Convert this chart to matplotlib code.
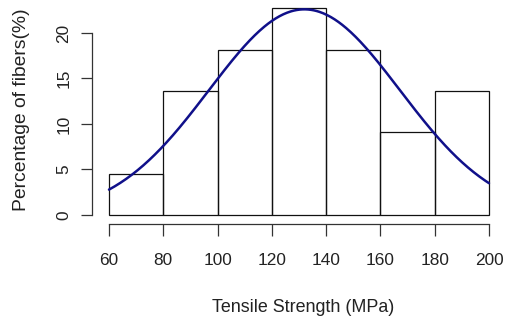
import numpy as np
import matplotlib
matplotlib.use("Agg")
import matplotlib.pyplot as plt

# Histogram of fibre tensile strength (22 fibres, 20 MPa bins)
bin_edges = [60, 80, 100, 120, 140, 160, 180, 200]
counts = [1, 3, 4, 5, 4, 2, 3]
n_fibers = 22
percent = [100.0 * c / n_fibers for c in counts]

# Fitted normal curve parameters (MPa) and its peak height (%)
fit_mean = 132.0
fit_sd = 35.2
fit_peak = 22.6

x_ticks = [60, 80, 100, 120, 140, 160, 180, 200]
y_ticks = [0, 5, 10, 15, 20]

plt.rcParams['font.family'] = ['Liberation Sans', 'DejaVu Sans']

W, H = 506, 324
fig = plt.figure(figsize=(W / 100, H / 100), dpi=100)

# axes placed in pixel coordinates
left_px, right_px = 92, 491.7
top_px, bottom_px = 1.15, 224
ax = fig.add_axes([left_px / W, 1 - bottom_px / H,
                   (right_px - left_px) / W, (bottom_px - top_px) / H])
ax.set_xlim(53.74, 201)
ax.set_ylim(-0.99, 23.5)

widths = np.diff(bin_edges)
ax.bar(bin_edges[:-1], percent, width=widths, align='edge',
       facecolor='none', edgecolor='#111111', linewidth=0.9)

xs = np.linspace(bin_edges[0], bin_edges[-1], 400)
ys = fit_peak * np.exp(-0.5 * ((xs - fit_mean) / fit_sd) ** 2)
ax.plot(xs, ys, color='#10108a', linewidth=1.8, solid_capstyle='round')

for s in ('top', 'right'):
    ax.spines[s].set_visible(False)
ax.spines['left'].set_bounds(0, 20)
ax.spines['bottom'].set_bounds(60, 200)
for s in ('left', 'bottom'):
    ax.spines[s].set_color('#333333')
    ax.spines[s].set_linewidth(0.9)

ax.set_xticks(x_ticks)
ax.set_yticks(y_ticks)
ax.set_yticklabels([str(v) for v in y_ticks], rotation=90, va='center')
ax.tick_params(axis='x', length=8.6, width=0.9, color='#333333', pad=12,
               labelsize=12.4, labelcolor='#222222')
ax.tick_params(axis='y', length=8, width=0.9, color='#333333', pad=7,
               labelsize=12.4, labelcolor='#222222')

fig.text(303 / W, 1 - 308 / H, 'Tensile Strength (MPa)', ha='center',
         va='center', fontsize=12.9, color='#222222')
fig.text(22 / W, 1 - 110 / H, 'Percentage of fibers(%)', ha='center',
         va='center', rotation=90, fontsize=13.9, color='#222222')

fig.savefig('out.png', dpi=100)
